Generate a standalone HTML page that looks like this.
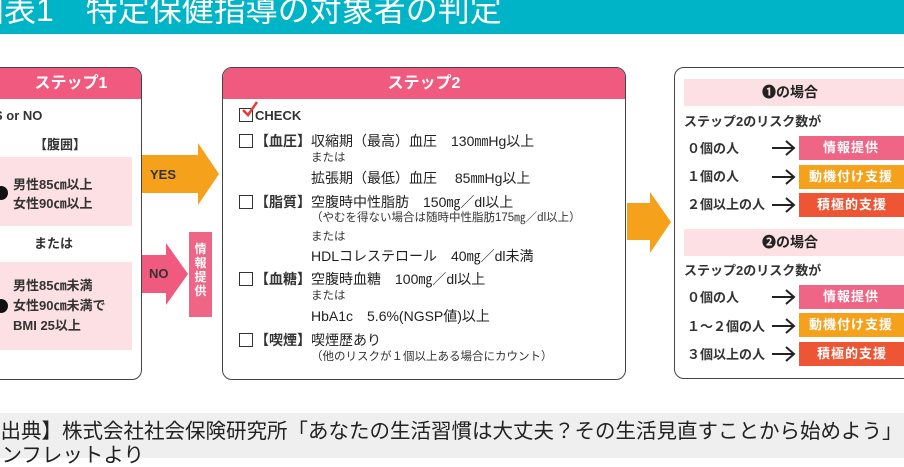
<!DOCTYPE html>
<html><head><meta charset="utf-8"><style>
*{margin:0;padding:0;box-sizing:border-box}
body{width:904px;height:458px;overflow:hidden;background:#fff;position:relative;font-family:"Liberation Sans","Noto Sans CJK JP",sans-serif;color:#222}
.a{position:absolute;white-space:nowrap;line-height:1}
.t{font-size:13px;font-weight:bold;color:#333}
.u{font-size:14px;color:#222}
.s{font-size:11.5px;color:#333}
.box{position:absolute;border:1.5px solid #444;border-radius:10px;background:#fff;overflow:hidden}
.hd{position:absolute;left:0;right:0;top:0;height:31px;background:#f05a7e;color:#fff;font-weight:bold;font-size:16px;text-align:center;line-height:31px}
.cb{display:inline-block;width:14px;height:14px;border:1.5px solid #333;vertical-align:-2px;margin-right:2px}
.btn{position:absolute;left:799px;width:110px;height:24px;color:#fff;font-weight:bold;font-size:13px;line-height:24px;padding-left:24px;letter-spacing:1px}
.pk{background:#ee6585}.or{background:#f5a11c}.rd{background:#ee5535}
.ph{position:absolute;left:684px;width:230px;height:27px;background:#fde0e3;font-weight:bold;font-size:14px;line-height:27px;padding-left:78px;color:#222}
</style></head><body>
<div style="position:absolute;left:0;top:0;width:904px;height:34px;background:#00b4c8"></div>
<div class="a" style="left:-28px;top:-6px;font-size:32px;color:#fff">図表1　特定保健指導の対象者の判定</div>

<div class="box" style="left:-20px;top:67px;width:162px;height:313px">
<div class="hd" style="padding-left:20px">ステップ1</div></div>
<div class="a t" style="left:-6px;top:109px">S or NO</div>
<div class="a t" style="left:34px;top:138px">【腹囲】</div>
<div style="position:absolute;left:0;top:157px;width:132px;height:69px;background:#fde0e3"></div>
<div style="position:absolute;left:-6px;top:186px;width:14px;height:14px;border-radius:50%;background:#111"></div>
<div class="a t" style="left:13px;top:178px">男性85㎝以上</div>
<div class="a t" style="left:13px;top:197px">女性90㎝以上</div>
<div class="a t" style="left:34px;top:237px">または</div>
<div style="position:absolute;left:0;top:262px;width:132px;height:88px;background:#fde0e3"></div>
<div style="position:absolute;left:-6px;top:299px;width:14px;height:14px;border-radius:50%;background:#111"></div>
<div class="a t" style="left:13px;top:279px">男性85㎝未満</div>
<div class="a t" style="left:13px;top:299px">女性90㎝未満で</div>
<div class="a t" style="left:13px;top:319px">BMI 25以上</div>

<svg style="position:absolute;left:0;top:0" width="904" height="458">
<polygon points="142,155 198,155 198,143 219,174 198,205 198,193 142,193" fill="#f5a11c"/>
<polygon points="142,255 166,255 166,243 188,274 166,305 166,293 142,293" fill="#f05a7e"/>
<polygon points="627,203 650,203 650,192 671,222 650,253 650,240 627,240" fill="#f5a11c"/>
</svg>
<div class="a t" style="left:150px;top:168px">YES</div>
<div class="a t" style="left:149px;top:267px">NO</div>
<div style="position:absolute;left:189px;top:232px;width:23px;height:85px;background:#ee6585;color:#fff;font-size:12px;font-weight:bold;text-align:center;line-height:14px;padding-top:10px">情<br>報<br>提<br>供</div>

<div class="box" style="left:222px;top:67px;width:404px;height:313px">
<div class="hd">ステップ2</div></div>
<div class="a t" style="left:239px;top:108px"><span class="cb"></span>CHECK</div>
<svg style="position:absolute;left:240px;top:100px" width="20" height="20"><path d="M3 10 L8 15 L17 2" stroke="#e8393a" stroke-width="2.5" fill="none"/></svg>
<div class="a t" style="left:239px;top:134px;font-size:14px"><span class="cb"></span>【血圧】</div>
<div class="a u" style="left:311px;top:134px">収縮期（最高）血圧　130㎜Hg以上</div>
<div class="a s" style="left:311px;top:153px">または</div>
<div class="a u" style="left:311px;top:171px">拡張期（最低）血圧　 85㎜Hg以上</div>
<div class="a t" style="left:239px;top:195px;font-size:14px"><span class="cb"></span>【脂質】</div>
<div class="a u" style="left:311px;top:195px">空腹時中性脂肪　150㎎／dl以上</div>
<div class="a s" style="left:311px;top:213px">（やむを得ない場合は随時中性脂肪175㎎／dl以上）</div>
<div class="a s" style="left:311px;top:232px">または</div>
<div class="a u" style="left:311px;top:249px">HDLコレステロール　40㎎／dl未満</div>
<div class="a t" style="left:239px;top:272px;font-size:14px"><span class="cb"></span>【血糖】</div>
<div class="a u" style="left:311px;top:272px">空腹時血糖　100㎎／dl以上</div>
<div class="a s" style="left:311px;top:291px">または</div>
<div class="a u" style="left:311px;top:309px">HbA1c　5.6%(NGSP値)以上</div>
<div class="a t" style="left:239px;top:333px;font-size:14px"><span class="cb"></span>【喫煙】</div>
<div class="a u" style="left:311px;top:333px">喫煙歴あり</div>
<div class="a s" style="left:311px;top:352px">（他のリスクが１個以上ある場合にカウント）</div>

<div class="box" style="left:674px;top:67px;width:260px;height:312px"></div>
<div class="ph" style="top:79px">❶の場合</div>
<div class="a t" style="left:684px;top:115px">ステップ2のリスク数が</div>
<div class="a t" style="left:687px;top:142px">０個の人</div>
<div class="a t" style="left:687px;top:170px">１個の人</div>
<div class="a t" style="left:687px;top:198px">２個以上の人</div>
<div class="btn pk" style="top:136px">情報提供</div>
<div class="btn or" style="top:165px;padding-left:10px">動機付け支援</div>
<div class="btn rd" style="top:193px;padding-left:18px">積極的支援</div>
<div class="ph" style="top:229px">❷の場合</div>
<div class="a t" style="left:684px;top:264px">ステップ2のリスク数が</div>
<div class="a t" style="left:687px;top:291px">０個の人</div>
<div class="a t" style="left:687px;top:320px">１～２個の人</div>
<div class="a t" style="left:687px;top:348px">３個以上の人</div>
<div class="btn pk" style="top:285px">情報提供</div>
<div class="btn or" style="top:313px;padding-left:10px">動機付け支援</div>
<div class="btn rd" style="top:342px;padding-left:18px">積極的支援</div>
<svg style="position:absolute;left:0;top:0" width="904" height="458">
<g stroke="#222" stroke-width="2" fill="none">
<path d="M772 148 H794 M786 141 L794 148 L786 155"/>
<path d="M772 177 H794 M786 170 L794 177 L786 184"/>
<path d="M772 205 H794 M786 198 L794 205 L786 212"/>
<path d="M772 297 H794 M786 290 L794 297 L786 304"/>
<path d="M772 326 H794 M786 319 L794 326 L786 333"/>
<path d="M772 354 H794 M786 347 L794 354 L786 361"/>
</g>
</svg>

<div style="position:absolute;left:0;top:413px;width:904px;height:45px;background:#efefef"></div>
<div class="a" style="left:-20px;top:422px;font-size:20.5px;color:#222">【出典】株式会社社会保険研究所「あなたの生活習慣は大丈夫？その生活見直すことから始めよう」</div>
<div class="a" style="left:-20px;top:446px;font-size:20.5px;color:#222">パンフレットより</div>
</body></html>
